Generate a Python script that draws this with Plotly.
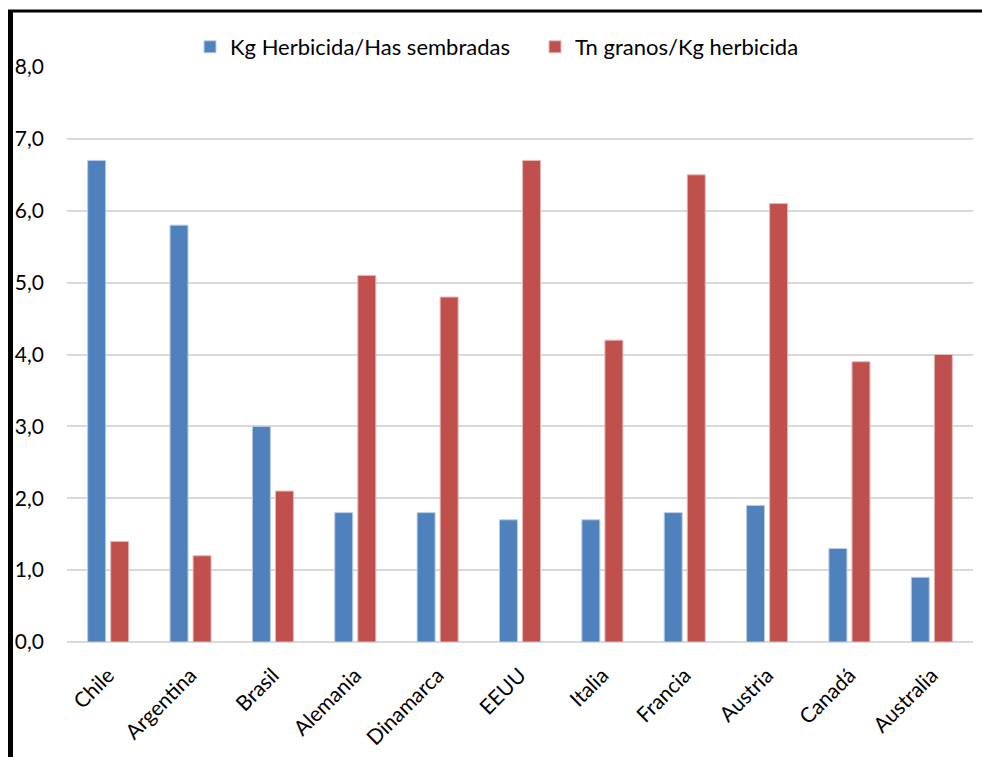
import plotly.graph_objects as go

categories = ["Chile", "Argentina", "Brasil", "Alemania", "Dinamarca", "EEUU",
              "Italia", "Francia", "Austria", "Canadá", "Australia"]
kg_herbicida_has = [6.7, 5.8, 3.0, 1.8, 1.8, 1.7, 1.7, 1.8, 1.9, 1.3, 0.9]
tn_granos_kg = [1.4, 1.2, 2.1, 5.1, 4.8, 6.7, 4.2, 6.5, 6.1, 3.9, 4.0]
y_ticks = [0, 1, 2, 3, 4, 5, 6, 7, 8]

W, H = 982, 757
ML, MR, MT, MB = 67, 9, 67, 115
FONT = "Lato"

fig = go.Figure()
fig.add_trace(go.Bar(x=categories, y=kg_herbicida_has, name="Kg Herbicida/Has sembradas",
                     marker=dict(color="#4F81BD", line=dict(color="#B9CDE5", width=1))))
fig.add_trace(go.Bar(x=categories, y=tn_granos_kg, name="Tn granos/Kg herbicida",
                     marker=dict(color="#C0504D", line=dict(color="#E6B9B8", width=1))))

pw = W - ML - MR
ph = H - MT - MB
def px_x(p):
    return (p - ML) / pw
def px_y(p):
    return (H - MB - p) / ph

shapes = [
    dict(type="line", xref="paper", yref="paper", x0=px_x(10.5), x1=px_x(10.5),
         y0=px_y(10), y1=px_y(H + 5), line=dict(color="black", width=5)),
    dict(type="line", xref="paper", yref="paper", x0=px_x(8), x1=px_x(W + 5),
         y0=px_y(11), y1=px_y(11), line=dict(color="black", width=3)),
]

fig.update_layout(
    width=W, height=H, autosize=False,
    margin=dict(l=ML, r=MR, t=MT, b=MB, pad=0),
    paper_bgcolor="white", plot_bgcolor="white",
    barmode="group", bargap=0.44, bargroupgap=0.22,
    separators=",.",
    font=dict(family=FONT, color="black"),
    legend=dict(orientation="h", x=px_x(190), xanchor="left", y=px_y(47), yanchor="middle",
                font=dict(size=22, family=FONT), itemwidth=30,
                entrywidth=300, entrywidthmode="pixels", bgcolor="rgba(0,0,0,0)"),
    shapes=shapes,
    showlegend=True,
)
fig.update_yaxes(range=[0, 8], tickvals=y_ticks, tickformat=".1f",
                 showgrid=True, gridcolor="#D9D9D9", gridwidth=1.5,
                 zeroline=True, zerolinecolor="#D9D9D9", zerolinewidth=1.5,
                 showline=False, ticks="", tickfont=dict(size=21, family=FONT),
                 ticklabelstandoff=22)
fig.update_xaxes(tickangle=-45, tickfont=dict(size=21, family=FONT),
                 showline=False, ticks="", showgrid=False, ticklabelstandoff=16)

fig.write_html("out.html")
